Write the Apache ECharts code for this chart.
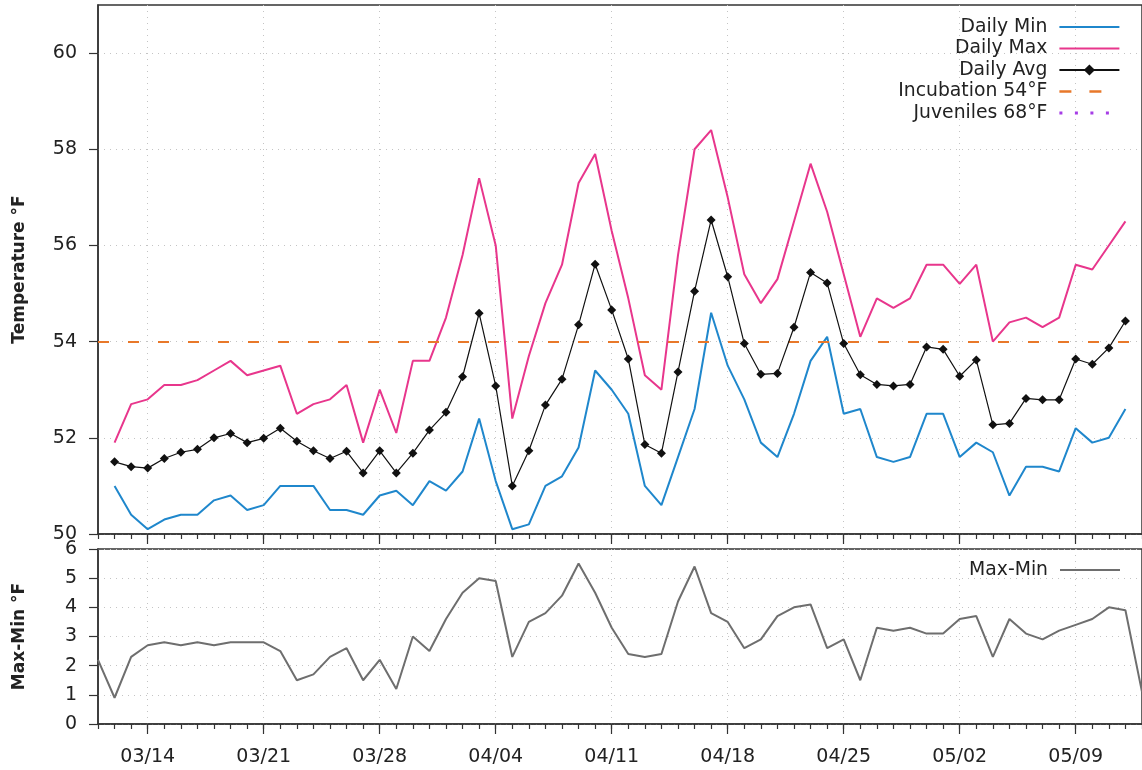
<!DOCTYPE html>
<html><head><meta charset="utf-8">
<script src="https://cdn.jsdelivr.net/npm/echarts@6/dist/echarts.min.js"></script>
<style>html,body{margin:0;padding:0;background:#fff}#c{width:1142px;height:770px}</style>
</head><body><div id="c"></div>
<script>
// ---- data ----
const dates = [
  '03/11','03/12','03/13','03/14','03/15','03/16','03/17','03/18','03/19','03/20',
  '03/21','03/22','03/23','03/24','03/25','03/26','03/27','03/28','03/29','03/30','03/31',
  '04/01','04/02','04/03','04/04','04/05','04/06','04/07','04/08','04/09','04/10',
  '04/11','04/12','04/13','04/14','04/15','04/16','04/17','04/18','04/19','04/20',
  '04/21','04/22','04/23','04/24','04/25','04/26','04/27','04/28','04/29','04/30',
  '05/01','05/02','05/03','05/04','05/05','05/06','05/07','05/08','05/09','05/10',
  '05/11','05/12','05/13'
];
const xTickLabels = ['03/14','03/21','03/28','04/04','04/11','04/18','04/25','05/02','05/09'];
const tempTicks = [50, 52, 54, 56, 58, 60];
const rangeTicks = [0, 1, 2, 3, 4, 5, 6];

const dailyMin = [null,
  51.0,50.4,50.1,50.3,50.4,50.4,50.7,50.8,50.5,50.6,51.0,51.0,51.0,50.5,50.5,50.4,50.8,50.9,50.6,51.1,
  50.9,51.3,52.4,51.1,50.1,50.2,51.0,51.2,51.8,53.4,53.0,52.5,51.0,50.6,51.6,52.6,54.6,53.5,52.8,51.9,
  51.6,52.5,53.6,54.1,52.5,52.6,51.6,51.5,51.6,52.5,
  52.5,51.6,51.9,51.7,50.8,51.4,51.4,51.3,52.2,51.9,52.0,52.6, null];
const dailyMax = [null,
  51.9,52.7,52.8,53.1,53.1,53.2,53.4,53.6,53.3,53.4,53.5,52.5,52.7,52.8,53.1,51.9,53.0,52.1,53.6,53.6,
  54.5,55.8,57.4,56.0,52.4,53.7,54.8,55.6,57.3,57.9,56.3,54.9,53.3,53.0,55.8,58.0,58.4,57.0,55.4,54.8,
  55.3,56.5,57.7,56.7,55.4,54.1,54.9,54.7,54.9,55.6,
  55.6,55.2,55.6,54.0,54.4,54.5,54.3,54.5,55.6,55.5,56.0,56.5, null];
const dailyAvg = [null,
  51.50,51.40,51.37,51.57,51.70,51.76,52.00,52.09,51.90,51.99,52.20,51.93,51.73,51.57,51.72,51.27,51.73,51.27,51.68,52.16,
  52.53,53.27,54.59,53.08,51.00,51.73,52.68,53.22,54.35,55.61,54.66,53.64,51.86,51.68,53.37,55.05,56.53,55.35,53.96,53.32,
  53.34,54.30,55.44,55.22,53.96,53.31,53.11,53.08,53.11,53.89,
  53.84,53.28,53.62,52.27,52.30,52.82,52.79,52.79,53.64,53.53,53.87,54.43, null];
const maxMinRange = [2.2,
  0.9,2.3,2.7,2.8,2.7,2.8,2.7,2.8,2.8,2.8,2.5,1.5,1.7,2.3,2.6,1.5,2.2,1.2,3.0,2.5,
  3.6,4.5,5.0,4.9,2.3,3.5,3.8,4.4,5.5,4.5,3.3,2.4,2.3,2.4,4.2,5.4,3.8,3.5,2.6,2.9,
  3.7,4.0,4.1,2.6,2.9,1.5,3.3,3.2,3.3,3.1,
  3.1,3.6,3.7,2.3,3.6,3.1,2.9,3.2,3.4,3.6,4.0,3.9,1.1];
const INCUBATION = 54;
const JUVENILES = 68;

// ---- style ----
const FONT = 'DejaVu Sans';
const TXT = '#222';
const AX = '#333';
const C_MIN = '#1f87cc', C_MAX = '#e8368c', C_AVG = '#111', C_INC = '#e8782a', C_JUV = '#a63de6', C_RNG = '#6e6e6e';
const GRIDLINE = {color: '#c4c4c4', type: [1, 5], width: 1};
const isMajor = (i, v) => xTickLabels.indexOf(v === undefined ? dates[i] : v) >= 0;

function xMinor(gi) {
  return {type: 'category', gridIndex: gi, data: dates, boundaryGap: false, position: 'bottom',
    axisLine: {show: true, lineStyle: {color: AX, width: 1.5}},
    axisTick: {show: true, interval: 0, length: 5, lineStyle: {color: AX, width: 1.2}},
    axisLabel: {show: false}, splitLine: {show: false}};
}
function xMajor(gi, showLabels) {
  return {type: 'category', gridIndex: gi, data: dates, boundaryGap: false, position: 'bottom',
    axisLine: {show: false},
    axisTick: {show: true, interval: isMajor, length: 10, lineStyle: {color: AX, width: 1.2}},
    axisLabel: {show: showLabels, interval: isMajor, fontSize: 19, fontFamily: FONT, color: TXT, margin: 24},
    splitLine: {show: true, interval: isMajor, lineStyle: GRIDLINE}};
}
function yAx(gi, min, max, interval, ticks, name) {
  return {type: 'value', gridIndex: gi, min: min, max: max, interval: interval,
    axisLine: {show: true, lineStyle: {color: AX, width: 1.5}},
    axisTick: {show: true, length: 9, customValues: ticks, lineStyle: {color: AX, width: 1.2}},
    axisLabel: {customValues: ticks, fontSize: 19, fontFamily: FONT, color: TXT, margin: 21},
    splitLine: {show: true, lineStyle: GRIDLINE},
    name: name, nameLocation: 'middle', nameGap: 70,
    nameTextStyle: {fontFamily: FONT, fontWeight: 'bold', fontSize: 17, color: TXT}};
}
const legendText = {fontSize: 18.8, fontFamily: FONT, color: TXT, lineHeight: 20, padding: [0, 7, 0, 0]};
const noSym = (name, w) => ({name: name, itemStyle: {opacity: 0, color: 'rgba(0,0,0,0)', borderWidth: 0},
  lineStyle: {width: w || 2}});

const option = {
  animation: false,
  backgroundColor: '#fff',
  grid: [
    {left: 98, top: 5, right: -4, height: 529, show: true, borderColor: AX, borderWidth: 1.5, backgroundColor: 'transparent'},
    {left: 98, top: 549, right: -4, height: 175, show: true, borderColor: AX, borderWidth: 1.5, backgroundColor: 'transparent'}
  ],
  xAxis: [xMinor(0), xMajor(0, false), xMinor(1), xMajor(1, true)],
  yAxis: [yAx(0, 50, 61, 2, tempTicks, 'Temperature °F'), yAx(1, 0, 6, 1, rangeTicks, 'Max-Min °F')],
  legend: [
    {data: [noSym('Daily Min'), noSym('Daily Max'), {name: 'Daily Avg'}, noSym('Incubation 54°F', 2.5), noSym('Juveniles 68°F', 3.2)],
     orient: 'vertical', right: 21, top: 17, align: 'right', itemWidth: 60, itemHeight: 14, itemGap: 1.5,
     padding: 0, selectedMode: false, textStyle: legendText},
    {data: [noSym('Max-Min')], orient: 'vertical', right: 21, top: 560, align: 'right', itemWidth: 60, itemHeight: 14,
     padding: 0, selectedMode: false, textStyle: legendText}
  ],
  series: [
    {name: 'Daily Min', type: 'line', xAxisIndex: 0, yAxisIndex: 0, data: dailyMin, symbol: 'none',
     lineStyle: {color: C_MIN, width: 2}, itemStyle: {color: C_MIN}, z: 3},
    {name: 'Daily Max', type: 'line', xAxisIndex: 0, yAxisIndex: 0, data: dailyMax, symbol: 'none',
     lineStyle: {color: C_MAX, width: 2}, itemStyle: {color: C_MAX}, z: 3},
    {name: 'Daily Avg', type: 'line', xAxisIndex: 0, yAxisIndex: 0, data: dailyAvg, symbol: 'diamond', symbolSize: 9,
     showAllSymbol: true, lineStyle: {color: C_AVG, width: 1.2}, itemStyle: {color: C_AVG}, z: 5},
    {name: 'Incubation 54°F', type: 'line', xAxisIndex: 0, yAxisIndex: 0, data: [], symbol: 'none',
     lineStyle: {color: C_INC, width: 2.2, type: [12, 18]}, itemStyle: {color: C_INC}, z: 4,
     markLine: {silent: true, symbol: ['none', 'none'], label: {show: false},
       lineStyle: {color: C_INC, width: 2.2, type: [11, 19]}, data: [{yAxis: INCUBATION}]}},
    {name: 'Juveniles 68°F', type: 'line', xAxisIndex: 0, yAxisIndex: 0, data: [], symbol: 'none',
     lineStyle: {color: C_JUV, width: 3, type: [3, 12.5]}, itemStyle: {color: C_JUV}, z: 4,
     markLine: {silent: true, symbol: ['none', 'none'], label: {show: false},
       lineStyle: {color: C_JUV, width: 3, type: [3, 12.5]}, data: [{yAxis: JUVENILES}]}},
    {name: 'Max-Min', type: 'line', xAxisIndex: 2, yAxisIndex: 1, data: maxMinRange, symbol: 'none',
     lineStyle: {color: C_RNG, width: 2}, itemStyle: {color: C_RNG}, z: 3}
  ]
};
const chart = echarts.init(document.getElementById('c'), null, {renderer: 'canvas'});
chart.setOption(option);
</script>
</body></html>
